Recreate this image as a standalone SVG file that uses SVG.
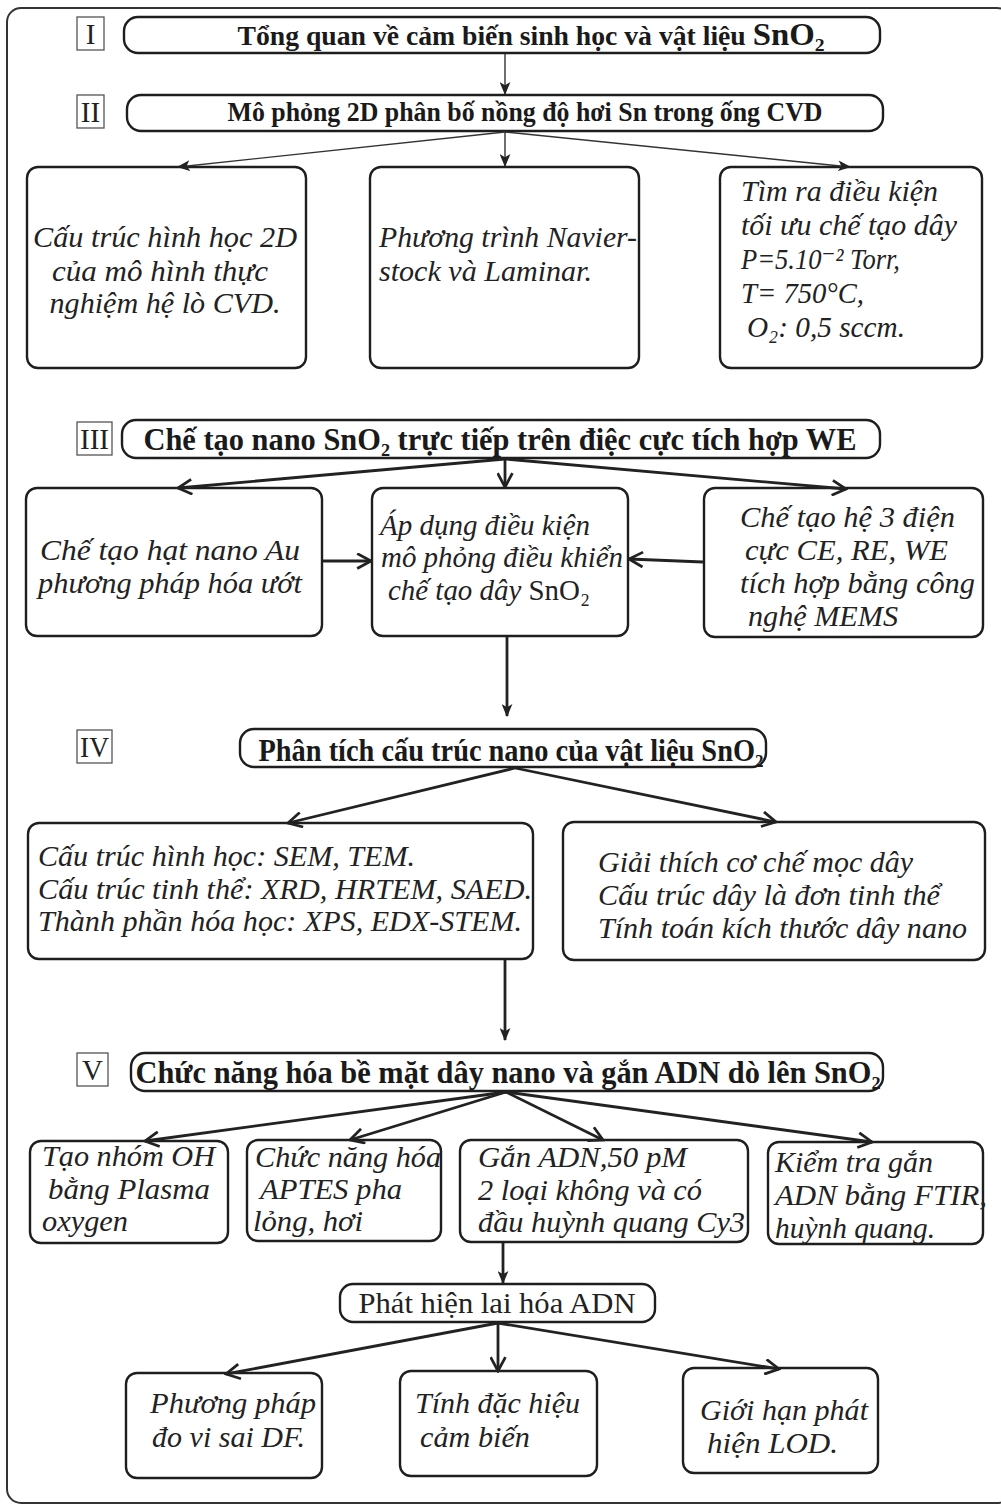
<svg xmlns="http://www.w3.org/2000/svg" width="1001" height="1508" viewBox="0 0 1001 1508">
<style>
.frame{fill:none;stroke:#333;stroke-width:2}
.box{fill:#fff;stroke:#1e1e1e;stroke-width:2.4}
.num{fill:#fff;stroke:#555;stroke-width:1.3}
.numt{font-family:"Liberation Serif","DejaVu Serif",serif;font-size:29px;fill:#222;text-anchor:middle}
.hdr{font-family:"Liberation Serif","DejaVu Serif",serif;font-weight:bold;fill:#1a1a1a;text-anchor:middle}
.it{font-family:"Liberation Serif","DejaVu Serif",serif;font-style:italic;font-size:30px;fill:#222}
.up{font-family:"Liberation Serif","DejaVu Serif",serif;font-size:30px;fill:#222}
.thin{stroke:#333;stroke-width:1.4;fill:none}
.thick{stroke:#222;stroke-width:2.8;fill:none}
</style>
<defs>
<marker id="a1" viewBox="0 0 12 10" refX="11" refY="5" markerWidth="13" markerHeight="11" markerUnits="userSpaceOnUse" orient="auto">
<path d="M0,0 L12,5 L0,10 L3,5 z" fill="#222"/>
</marker>
<marker id="a2" viewBox="0 0 16 16" refX="14" refY="8" markerWidth="17" markerHeight="17" markerUnits="userSpaceOnUse" orient="auto">
<path d="M1,1 L14,8 L1,15" fill="none" stroke="#222" stroke-width="2.6"/>
</marker>
</defs>
<rect width="1001" height="1508" fill="#fff"/>
<rect class="frame" x="7" y="8" width="1004" height="1495" rx="14"/>

<g id="label-I"><rect class="num" x="77" y="17" width="27" height="33"/><text class="numt" x="90.5" y="44">I</text></g>
<g id="label-II"><rect class="num" x="77" y="95" width="27" height="33"/><text class="numt" x="90.5" y="122">II</text></g>
<g id="label-III"><rect class="num" x="77" y="422" width="35" height="33"/><text class="numt" x="94.5" y="449" textLength="29" lengthAdjust="spacingAndGlyphs">III</text></g>
<g id="label-IV"><rect class="num" x="77" y="730" width="35" height="33"/><text class="numt" x="94.5" y="757" textLength="29" lengthAdjust="spacingAndGlyphs">IV</text></g>
<g id="label-V"><rect class="num" x="77" y="1053" width="31" height="33"/><text class="numt" x="92.5" y="1080">V</text></g>

<g id="node-I">
<rect class="box" x="124" y="17" width="756" height="36" rx="14"/>
<text class="hdr" x="531" y="45" font-size="27" textLength="587" lengthAdjust="spacingAndGlyphs">Tổng quan về cảm biến sinh học và vật liệu <tspan font-size="32">SnO₂</tspan></text>
</g>
<g id="node-II">
<rect class="box" x="127" y="95" width="756" height="36" rx="14"/>
<text class="hdr" x="525" y="121" font-size="27" textLength="595" lengthAdjust="spacingAndGlyphs">Mô phỏng 2D phân bố nồng độ hơi Sn trong ống CVD</text>
</g>

<g id="node-A">
<rect class="box" x="27" y="167" width="279" height="201" rx="11"/>
<text class="it" x="165" y="247" text-anchor="middle" textLength="264" lengthAdjust="spacingAndGlyphs">Cấu trúc hình học 2D</text>
<text class="it" x="160" y="281" text-anchor="middle" textLength="216" lengthAdjust="spacingAndGlyphs">của mô hình thực</text>
<text class="it" x="165" y="313" text-anchor="middle" textLength="231" lengthAdjust="spacingAndGlyphs">nghiệm hệ lò CVD.</text>
</g>
<g id="node-B">
<rect class="box" x="370" y="167" width="269" height="201" rx="11"/>
<text class="it" x="379" y="247" textLength="258" lengthAdjust="spacingAndGlyphs">Phương trình Navier-</text>
<text class="it" x="379" y="281" textLength="213" lengthAdjust="spacingAndGlyphs">stock và Laminar.</text>
</g>
<g id="node-C">
<rect class="box" x="720" y="167" width="262" height="201" rx="11"/>
<text class="it" x="741" y="201" textLength="197" lengthAdjust="spacingAndGlyphs">Tìm ra điều kiện</text>
<text class="it" x="741" y="235" textLength="216" lengthAdjust="spacingAndGlyphs">tối ưu chế tạo dây</text>
<text class="it" x="741" y="269" textLength="159" lengthAdjust="spacingAndGlyphs">P=5.10⁻² Torr,</text>
<text class="it" x="741" y="303" textLength="123" lengthAdjust="spacingAndGlyphs">T= 750°C,</text>
<text class="it" x="747" y="337" textLength="158" lengthAdjust="spacingAndGlyphs">O₂: 0,5 sccm.</text>
</g>

<g id="node-III">
<rect class="box" x="122" y="420" width="758" height="38" rx="14"/>
<text class="hdr" x="500" y="450" font-size="31" textLength="713" lengthAdjust="spacingAndGlyphs">Chế tạo nano  SnO₂ trực tiếp trên điệc cực tích hợp WE</text>
</g>

<g id="node-D">
<rect class="box" x="26" y="488" width="296" height="148" rx="11"/>
<text class="it" x="40" y="560" textLength="260" lengthAdjust="spacingAndGlyphs">Chế tạo hạt nano Au</text>
<text class="it" x="38" y="593" textLength="264" lengthAdjust="spacingAndGlyphs">phương pháp hóa ướt</text>
</g>
<g id="node-E">
<rect class="box" x="372" y="488" width="256" height="148" rx="11"/>
<text class="it" x="380" y="535" textLength="210" lengthAdjust="spacingAndGlyphs">Áp dụng điều kiện</text>
<text class="it" x="381" y="567" textLength="242" lengthAdjust="spacingAndGlyphs">mô phỏng điều khiển</text>
<text class="it" x="388" y="600" textLength="202" lengthAdjust="spacingAndGlyphs">chế tạo dây <tspan font-style="normal">SnO₂</tspan></text>
</g>
<g id="node-F">
<rect class="box" x="704" y="488" width="279" height="149" rx="11"/>
<text class="it" x="740" y="527" textLength="215" lengthAdjust="spacingAndGlyphs">Chế tạo hệ 3 điện</text>
<text class="it" x="745" y="560" textLength="203" lengthAdjust="spacingAndGlyphs">cực CE, RE, WE</text>
<text class="it" x="740" y="593" textLength="235" lengthAdjust="spacingAndGlyphs">tích hợp bằng công</text>
<text class="it" x="748" y="626" textLength="150" lengthAdjust="spacingAndGlyphs">nghệ MEMS</text>
</g>

<g id="node-IV">
<rect class="box" x="240" y="729" width="526" height="38" rx="14"/>
<text class="hdr" x="511" y="761" font-size="31" textLength="505" lengthAdjust="spacingAndGlyphs">Phân tích cấu trúc nano của vật liệu SnO₂</text>
</g>

<g id="node-G">
<rect class="box" x="28" y="823" width="505" height="136" rx="11"/>
<text class="it" x="38" y="866" textLength="377" lengthAdjust="spacingAndGlyphs">Cấu trúc hình học: SEM, TEM.</text>
<text class="it" x="38" y="899" textLength="494" lengthAdjust="spacingAndGlyphs">Cấu trúc tinh thể: XRD, HRTEM, SAED.</text>
<text class="it" x="38" y="931" textLength="484" lengthAdjust="spacingAndGlyphs">Thành phần hóa học: XPS, EDX-STEM.</text>
</g>
<g id="node-H">
<rect class="box" x="563" y="822" width="422" height="138" rx="11"/>
<text class="it" x="598" y="872" textLength="315" lengthAdjust="spacingAndGlyphs">Giải thích cơ chế mọc dây</text>
<text class="it" x="598" y="905" textLength="342" lengthAdjust="spacingAndGlyphs">Cấu trúc dây là đơn tinh thể</text>
<text class="it" x="598" y="938" textLength="369" lengthAdjust="spacingAndGlyphs">Tính toán kích thước dây nano</text>
</g>

<g id="node-V">
<rect class="box" x="131" y="1053" width="752" height="38" rx="14"/>
<text class="hdr" x="508" y="1083" font-size="31" textLength="745" lengthAdjust="spacingAndGlyphs">Chức năng hóa bề mặt dây nano và gắn ADN dò lên SnO₂</text>
</g>

<g id="node-V1">
<rect class="box" x="30" y="1141" width="198" height="102" rx="11"/>
<text class="it" x="42" y="1166" textLength="173" lengthAdjust="spacingAndGlyphs">Tạo nhóm OH</text>
<text class="it" x="48" y="1199" textLength="162" lengthAdjust="spacingAndGlyphs">bằng Plasma</text>
<text class="it" x="42" y="1231" textLength="86" lengthAdjust="spacingAndGlyphs">oxygen</text>
</g>
<g id="node-V2">
<rect class="box" x="247" y="1140" width="194" height="101" rx="11"/>
<text class="it" x="255" y="1167" textLength="186" lengthAdjust="spacingAndGlyphs">Chức năng hóa</text>
<text class="it" x="260" y="1199" textLength="142" lengthAdjust="spacingAndGlyphs">APTES pha</text>
<text class="it" x="253" y="1231" textLength="110" lengthAdjust="spacingAndGlyphs">lỏng, hơi</text>
</g>
<g id="node-V3">
<rect class="box" x="460" y="1140" width="288" height="102" rx="11"/>
<text class="it" x="478" y="1167" textLength="209" lengthAdjust="spacingAndGlyphs">Gắn ADN,50 pM</text>
<text class="it" x="478" y="1200" textLength="224" lengthAdjust="spacingAndGlyphs">2 loại không và có</text>
<text class="it" x="478" y="1232" textLength="267" lengthAdjust="spacingAndGlyphs">đầu huỳnh quang Cy3</text>
</g>
<g id="node-V4">
<rect class="box" x="768" y="1142" width="215" height="102" rx="11"/>
<text class="it" x="775" y="1172" textLength="158" lengthAdjust="spacingAndGlyphs">Kiểm tra gắn</text>
<text class="it" x="775" y="1205" textLength="212" lengthAdjust="spacingAndGlyphs">ADN  bằng FTIR,</text>
<text class="it" x="775" y="1238" textLength="160" lengthAdjust="spacingAndGlyphs">huỳnh quang.</text>
</g>

<g id="node-detect">
<rect class="box" x="340" y="1284" width="315" height="38" rx="13"/>
<text class="up" x="497" y="1313" text-anchor="middle" textLength="277" lengthAdjust="spacingAndGlyphs">Phát hiện lai hóa ADN</text>
</g>

<g id="node-J1">
<rect class="box" x="126" y="1373" width="196" height="105" rx="11"/>
<text class="it" x="150" y="1413" textLength="166" lengthAdjust="spacingAndGlyphs">Phương pháp</text>
<text class="it" x="152" y="1447" textLength="153" lengthAdjust="spacingAndGlyphs">đo vi sai DF.</text>
</g>
<g id="node-J2">
<rect class="box" x="400" y="1371" width="197" height="105" rx="11"/>
<text class="it" x="415" y="1413" textLength="165" lengthAdjust="spacingAndGlyphs">Tính đặc hiệu</text>
<text class="it" x="420" y="1447" textLength="110" lengthAdjust="spacingAndGlyphs">cảm biến</text>
</g>
<g id="node-J3">
<rect class="box" x="683" y="1368" width="195" height="105" rx="11"/>
<text class="it" x="700" y="1420" textLength="168" lengthAdjust="spacingAndGlyphs">Giới hạn phát</text>
<text class="it" x="707" y="1453" textLength="131" lengthAdjust="spacingAndGlyphs">hiện LOD.</text>
</g>

<g id="connectors">
<line class="thin" x1="505" y1="54" x2="505" y2="94" marker-end="url(#a1)"/>
<line class="thin" x1="505" y1="132" x2="178" y2="167" marker-end="url(#a1)"/>
<line class="thin" x1="505" y1="132" x2="505" y2="166" marker-end="url(#a1)"/>
<line class="thin" x1="505" y1="132" x2="850" y2="167" marker-end="url(#a1)"/>
<line class="thick" x1="505" y1="459" x2="178" y2="488" marker-end="url(#a2)"/>
<line class="thick" x1="505" y1="459" x2="505" y2="487" marker-end="url(#a2)"/>
<line class="thick" x1="505" y1="459" x2="846" y2="489" marker-end="url(#a2)"/>
<line class="thick" x1="323" y1="561" x2="371" y2="561" marker-end="url(#a2)"/>
<line class="thick" x1="703" y1="562" x2="629" y2="559" marker-end="url(#a2)"/>
<line class="thick" x1="507" y1="637" x2="507" y2="716" marker-end="url(#a1)"/>
<line class="thick" x1="515" y1="768" x2="288" y2="823" marker-end="url(#a2)"/>
<line class="thick" x1="515" y1="768" x2="776" y2="822" marker-end="url(#a2)"/>
<line class="thick" x1="505" y1="960" x2="505" y2="1040" marker-end="url(#a1)"/>
<line class="thick" x1="506" y1="1092" x2="145" y2="1141" marker-end="url(#a2)"/>
<line class="thick" x1="506" y1="1092" x2="350" y2="1140" marker-end="url(#a2)"/>
<line class="thick" x1="506" y1="1092" x2="603" y2="1140" marker-end="url(#a2)"/>
<line class="thick" x1="506" y1="1092" x2="872" y2="1142" marker-end="url(#a2)"/>
<line class="thick" x1="503" y1="1243" x2="503" y2="1283" marker-end="url(#a1)"/>
<line class="thick" x1="498" y1="1323" x2="226" y2="1374" marker-end="url(#a2)"/>
<line class="thick" x1="498" y1="1323" x2="498" y2="1371" marker-end="url(#a2)"/>
<line class="thick" x1="498" y1="1323" x2="779" y2="1369" marker-end="url(#a2)"/>
</g>
</svg>
